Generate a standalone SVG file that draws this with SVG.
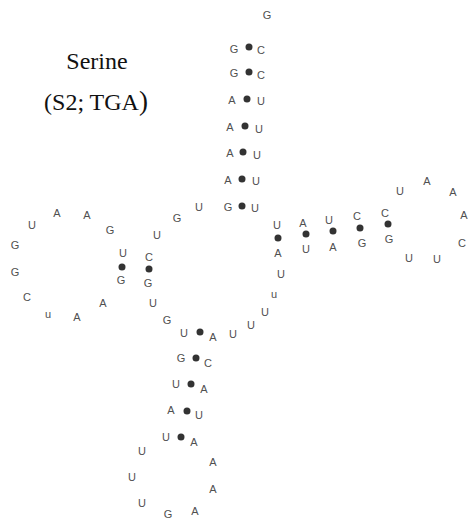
<svg xmlns="http://www.w3.org/2000/svg" width="468" height="520" viewBox="0 0 468 520">
<style>
.b{font-family:"Liberation Sans",Arial,sans-serif;font-size:11px;fill:#505050;text-anchor:middle}
.t{font-family:"Liberation Serif","Times New Roman",serif;font-size:24px;fill:#111;text-anchor:middle}
.p{fill:#333}
</style>
<rect width="468" height="520" fill="#fff"/>
<g id="title">
<text class="t" x="97" y="69">Serine</text>
<text class="t" x="96" y="110">(S2; TGA<tspan font-size="27">)</tspan></text>
</g>
<g id="bases">
<g id="n1"><text class="b" x="267" y="19">G</text></g>
<g id="n2"><text class="b" x="234" y="53">G</text></g>
<g id="n3"><text class="b" x="261" y="54">C</text></g>
<g id="n4"><text class="b" x="234" y="77">G</text></g>
<g id="n5"><text class="b" x="261" y="79">C</text></g>
<g id="n6"><text class="b" x="232" y="104">A</text></g>
<g id="n7"><text class="b" x="261" y="105">U</text></g>
<g id="n8"><text class="b" x="230" y="131">A</text></g>
<g id="n9"><text class="b" x="259" y="133">U</text></g>
<g id="n10"><text class="b" x="230" y="157">A</text></g>
<g id="n11"><text class="b" x="257" y="159">U</text></g>
<g id="n12"><text class="b" x="228" y="184">A</text></g>
<g id="n13"><text class="b" x="256" y="185">U</text></g>
<g id="n14"><text class="b" x="228" y="211">G</text></g>
<g id="n15"><text class="b" x="255" y="212">U</text></g>
<g id="n16"><text class="b" x="199" y="211">U</text></g>
<g id="n17"><text class="b" x="177" y="222">G</text></g>
<g id="n18"><text class="b" x="157" y="239">U</text></g>
<g id="n19"><text class="b" x="123" y="257">U</text></g>
<g id="n20"><text class="b" x="121" y="284">G</text></g>
<g id="n21"><text class="b" x="149" y="261">C</text></g>
<g id="n22"><text class="b" x="148" y="287">G</text></g>
<g id="n23"><text class="b" x="110" y="234">G</text></g>
<g id="n24"><text class="b" x="87" y="219">A</text></g>
<g id="n25"><text class="b" x="57" y="217">A</text></g>
<g id="n26"><text class="b" x="32" y="229">U</text></g>
<g id="n27"><text class="b" x="15" y="249">G</text></g>
<g id="n28"><text class="b" x="15" y="276">G</text></g>
<g id="n29"><text class="b" x="27" y="301">C</text></g>
<g id="n30"><text class="b" x="48" y="318">u</text></g>
<g id="n31"><text class="b" x="77" y="321">A</text></g>
<g id="n32"><text class="b" x="103" y="307">A</text></g>
<g id="n33"><text class="b" x="153" y="307">U</text></g>
<g id="n34"><text class="b" x="167" y="324">G</text></g>
<g id="n35"><text class="b" x="184" y="337">U</text></g>
<g id="n36"><text class="b" x="213" y="341">A</text></g>
<g id="n37"><text class="b" x="233" y="338">U</text></g>
<g id="n38"><text class="b" x="251" y="329">U</text></g>
<g id="n39"><text class="b" x="265" y="316">U</text></g>
<g id="n40"><text class="b" x="274" y="298">u</text></g>
<g id="n41"><text class="b" x="281" y="278">U</text></g>
<g id="n42"><text class="b" x="278" y="257">A</text></g>
<g id="n43"><text class="b" x="277" y="229">U</text></g>
<g id="n44"><text class="b" x="303" y="227">A</text></g>
<g id="n45"><text class="b" x="306" y="253">U</text></g>
<g id="n46"><text class="b" x="329" y="224">U</text></g>
<g id="n47"><text class="b" x="333" y="251">A</text></g>
<g id="n48"><text class="b" x="357" y="220">C</text></g>
<g id="n49"><text class="b" x="362" y="247">G</text></g>
<g id="n50"><text class="b" x="385" y="217">C</text></g>
<g id="n51"><text class="b" x="389" y="243">G</text></g>
<g id="n52"><text class="b" x="400" y="195">U</text></g>
<g id="n53"><text class="b" x="427" y="185">A</text></g>
<g id="n54"><text class="b" x="453" y="196">A</text></g>
<g id="n55"><text class="b" x="464" y="219">A</text></g>
<g id="n56"><text class="b" x="462" y="247">C</text></g>
<g id="n57"><text class="b" x="437" y="263">U</text></g>
<g id="n58"><text class="b" x="409" y="262">U</text></g>
<g id="n59"><text class="b" x="181" y="362">G</text></g>
<g id="n60"><text class="b" x="208" y="367">C</text></g>
<g id="n61"><text class="b" x="176" y="388">U</text></g>
<g id="n62"><text class="b" x="204" y="393">A</text></g>
<g id="n63"><text class="b" x="171" y="414">A</text></g>
<g id="n64"><text class="b" x="199" y="419">U</text></g>
<g id="n65"><text class="b" x="166" y="441">U</text></g>
<g id="n66"><text class="b" x="194" y="446">A</text></g>
<g id="n67"><text class="b" x="142" y="455">U</text></g>
<g id="n68"><text class="b" x="132" y="481">U</text></g>
<g id="n69"><text class="b" x="142" y="507">U</text></g>
<g id="n70"><text class="b" x="168" y="518">G</text></g>
<g id="n71"><text class="b" x="195" y="515">A</text></g>
<g id="n72"><text class="b" x="213" y="493">A</text></g>
<g id="n73"><text class="b" x="213" y="466">A</text></g>
</g>
<g id="connectors">
<circle class="p" cx="249" cy="47" r="3.5"/>
<circle class="p" cx="249" cy="72" r="3.5"/>
<circle class="p" cx="247" cy="99" r="3.5"/>
<circle class="p" cx="245" cy="126" r="3.5"/>
<circle class="p" cx="243" cy="152" r="3.5"/>
<circle class="p" cx="242" cy="179" r="3.5"/>
<circle class="p" cx="242" cy="206" r="3.5"/>
<circle class="p" cx="122" cy="267" r="3.5"/>
<circle class="p" cx="149" cy="269" r="3.5"/>
<circle class="p" cx="200" cy="332" r="3.5"/>
<circle class="p" cx="278" cy="238" r="3.5"/>
<circle class="p" cx="306" cy="234" r="3.5"/>
<circle class="p" cx="333" cy="231" r="3.5"/>
<circle class="p" cx="360" cy="228" r="3.5"/>
<circle class="p" cx="388" cy="224" r="3.5"/>
<circle class="p" cx="196" cy="358" r="3.5"/>
<circle class="p" cx="191" cy="384" r="3.5"/>
<circle class="p" cx="187" cy="411" r="3.5"/>
<circle class="p" cx="181" cy="437" r="3.5"/>
</g>
</svg>
